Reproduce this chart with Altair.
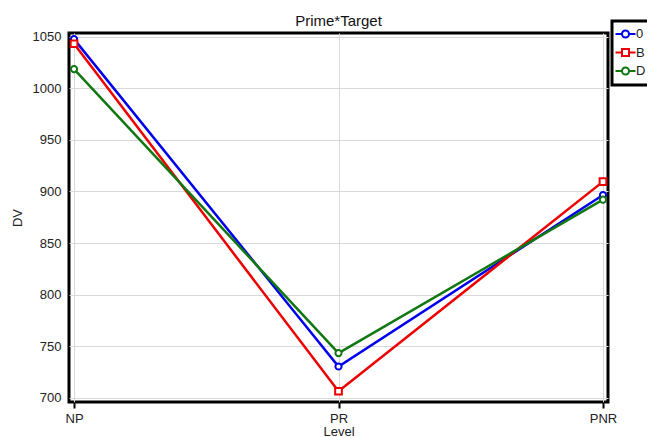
import altair as alt
import pandas as pd

levels = ["NP", "PR", "PNR"]
series = ["0", "B", "D"]
dv_0 = [1047.5, 730.5, 896.5]
dv_B = [1043.0, 706.5, 909.5]
dv_D = [1018.5, 743.5, 892.0]
colors = ["#0000ee", "#ee0000", "#117711"]
y_ticks = [700, 750, 800, 850, 900, 950, 1000, 1050]

rows = []
for s, vals in zip(series, [dv_0, dv_B, dv_D]):
    for lv, v in zip(levels, vals):
        rows.append({"Level": lv, "Target": s, "DV": v})
df = pd.DataFrame(rows)

FONT = "Liberation Sans"

x = alt.X(
    "Level:N",
    sort=levels,
    scale=alt.Scale(type="point", domain=levels, padding=0.019),
    axis=alt.Axis(
        title="Level", labelAngle=0, ticks=True, tickSize=6, tickWidth=2,
        tickColor="black", domain=False, grid=True, gridColor="#d9d9d9",
        labelPadding=4, titlePadding=0, labelFontSize=13, titleFontSize=13,
        titleFontWeight="normal", labelColor="#222222", titleColor="#222222",
        labelFont=FONT, titleFont=FONT,
    ),
)
y = alt.Y(
    "DV:Q",
    scale=alt.Scale(domain=[696.1, 1053.4], nice=False, zero=False),
    axis=alt.Axis(
        title="DV", values=y_ticks, format="d", ticks=False, domain=False, grid=True,
        gridColor="#d9d9d9", labelPadding=8, titlePadding=8, labelFontSize=13,
        titleFontSize=13, titleFontWeight="normal", labelColor="#222222",
        titleColor="#222222", labelFont=FONT, titleFont=FONT,
    ),
)
color_scale = alt.Scale(domain=series, range=colors)

circ_path = "M-1.9,0H-0.6M0.8,0H2.1M-0.6,0A0.7,0.7,0,1,0,0.8,0A0.7,0.7,0,1,0,-0.6,0"
sq_path = "M-1.9,0H-0.6M0.8,0H2.1M-0.6,-0.7H0.8V0.7H-0.6Z"

legend_layer = alt.Chart(df).mark_point(
    filled=False, strokeWidth=2, opacity=0
).encode(
    x=x, y=y,
    color=alt.Color("Target:N", scale=color_scale, legend=alt.Legend(
        title=None, orient="none", legendX=543, legendY=-12)),
    shape=alt.Shape("Target:N", scale=alt.Scale(domain=series, range=[circ_path, sq_path, circ_path]),
                    legend=alt.Legend(title=None, orient="none", legendX=543, legendY=-12)),
)

lines = alt.Chart(df).mark_line(strokeWidth=2.5).encode(
    x=x, y=y, color=alt.Color("Target:N", scale=color_scale, legend=None)
)

circles = alt.Chart(df).transform_filter(
    "datum.Target != 'B'"
).mark_point(shape="circle", filled=False, fill="white", size=38, strokeWidth=2, opacity=1).encode(
    x=x, y=y, color=alt.Color("Target:N", scale=color_scale, legend=None)
)

squares = alt.Chart(df).transform_filter(
    "datum.Target == 'B'"
).mark_point(shape="square", filled=False, fill="white", size=45, strokeWidth=2, opacity=1).encode(
    x=x, y=y, color=alt.Color("Target:N", scale=color_scale, legend=None)
)

chart = alt.layer(legend_layer, lines, circles, squares).properties(
    width=539,
    height=369,
    padding={"left": 61, "top": 25, "right": 39, "bottom": 35},
    autosize=alt.AutoSizeParams(type="none"),
    title=alt.Title("Prime*Target", fontSize=15, fontWeight="normal", font=FONT,
                    color="#111111", offset=-9.5, anchor="middle", frame="group"),
).configure_view(
    stroke="black", strokeWidth=3
).configure_legend(
    strokeColor="black", strokeWidth=3, fillColor="white", padding=6.5,
    symbolSize=100, symbolStrokeWidth=2, symbolOpacity=1, labelFontSize=13, labelFont=FONT,
    labelColor="#222222", labelOffset=4.5, rowPadding=3.5, symbolFillColor="white",
)

chart.save("out.html", embed_options={"renderer": "svg", "actions": False})
